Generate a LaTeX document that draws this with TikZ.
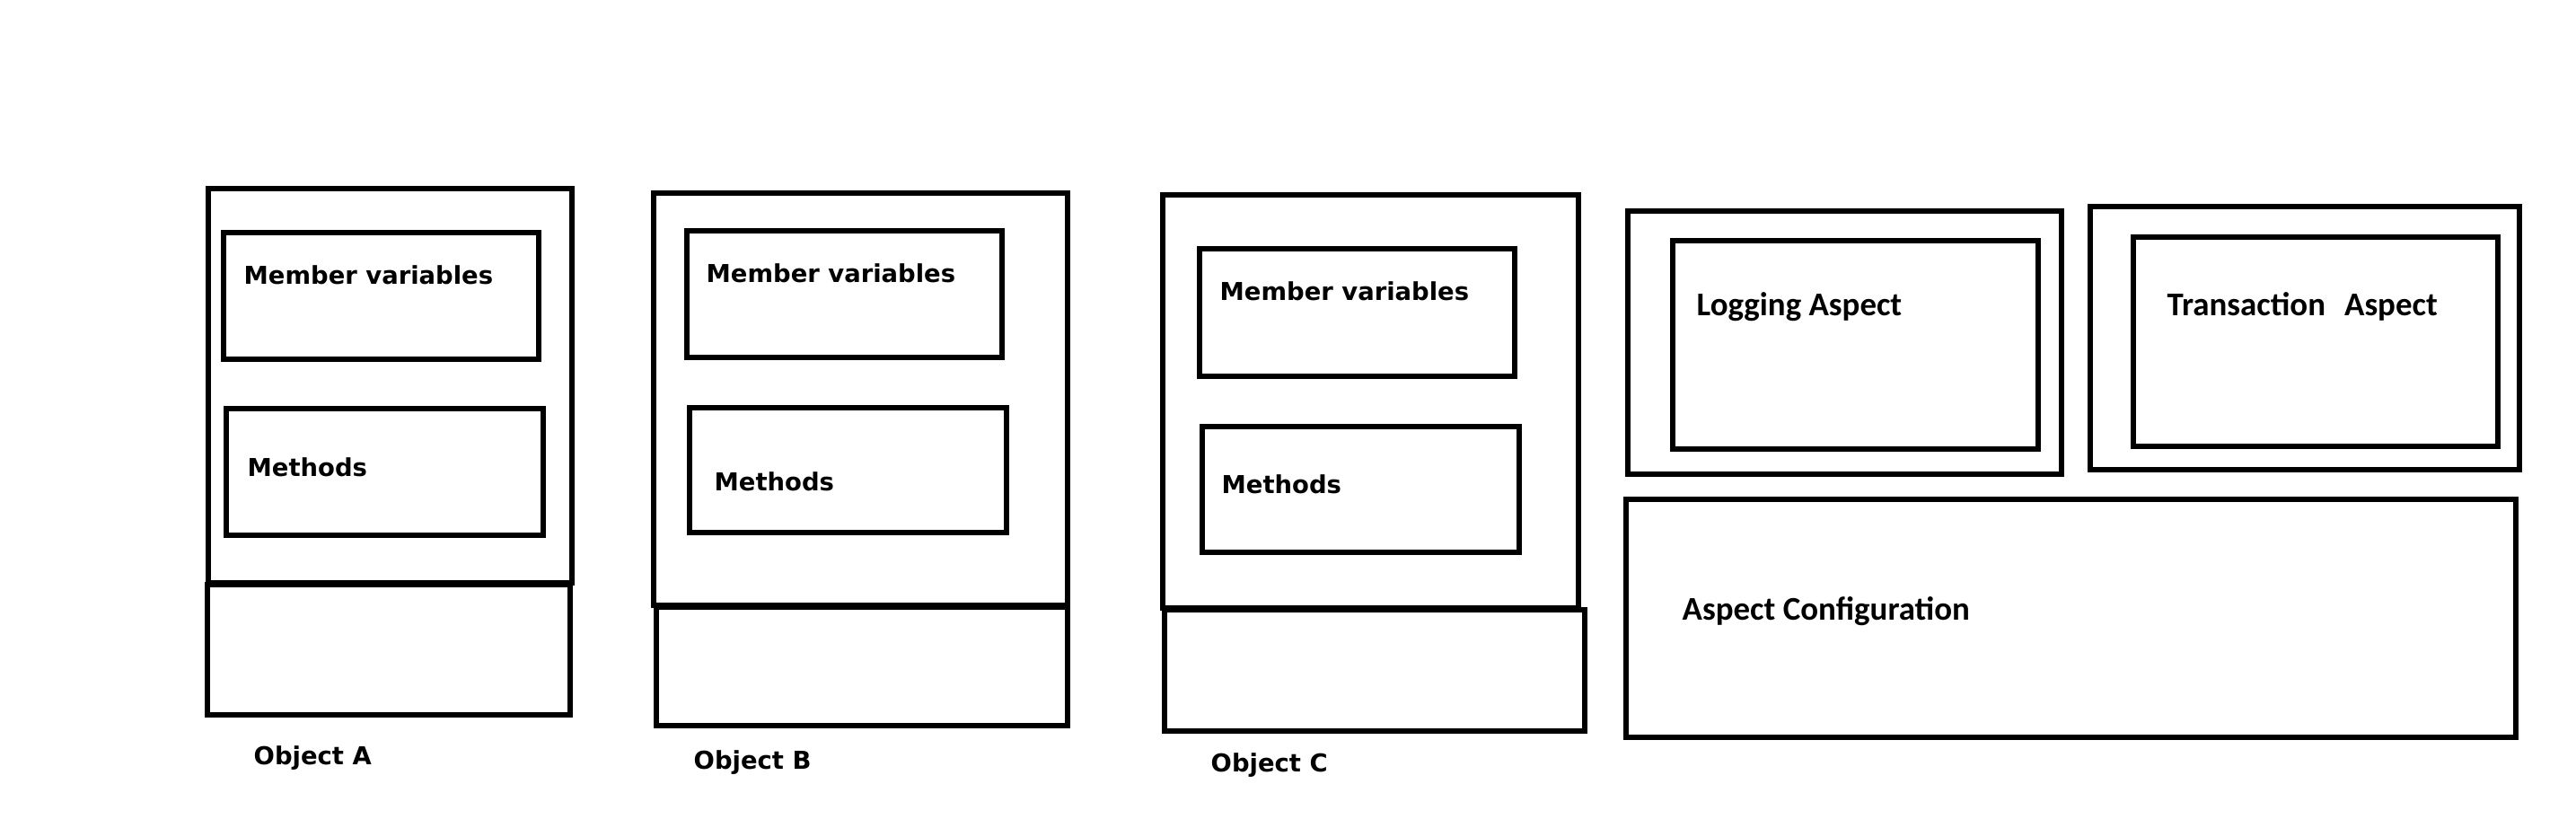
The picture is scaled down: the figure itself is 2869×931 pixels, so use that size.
\documentclass[tikz,border=0pt]{standalone}
\usepackage{fontspec}
\newfontfamily\objfont{DejaVu Sans}
\newfontfamily\aspfont{Carlito}
\usepackage{tikz}
\usetikzlibrary{fit,positioning}

\begin{document}
\begin{tikzpicture}[x=0.1mm, y=-0.1mm] % one unit = one pixel of the sketch
  \tikzstyle{box}=[draw, line width=1.5pt, inner sep=0pt, outer sep=0pt]
  \tikzstyle{txt}=[anchor=base west, inner sep=0pt, font=\objfont\bfseries\fontsize{7.8}{9}\selectfont]
  \tikzstyle{atxt}=[anchor=base west, inner sep=0pt, font=\aspfont\bfseries\fontsize{10.5}{12}\selectfont]

  \useasboundingbox (0,0) rectangle (2869,931);

  % Object A
  \node[box, fit={(232,210) (637,649)}] (ObjA) {};
  \node[box, fit={(231,651) (635,796)}] (BaseA) {};
  \node[box, fit={(249,259) (600,400)}] (MemA) {};
  \node[box, fit={(252,455) (605,596)}] (MetA) {};
  \node[txt] (tMemA) at (271,316) {Member variables};
  \node[txt] (tMetA) at (275,530) {Methods};
  \node[txt] (tObjA) at (282,851) {Object A};

  % Object B
  \node[box, fit={(728,215) (1189,674)}] (ObjB) {};
  \node[box, fit={(731,676) (1189,808)}] (BaseB) {};
  \node[box, fit={(765,257) (1116,398)}] (MemB) {};
  \node[box, fit={(768,454) (1121,593)}] (MetB) {};
  \node[txt] (tMemB) at (786,314) {Member variables};
  \node[txt] (tMetB) at (795,546) {Methods};
  \node[txt] (tObjB) at (772,856) {Object B};

  % Object C
  \node[box, fit={(1295,217) (1758,677)}] (ObjC) {};
  \node[box, fit={(1297,679) (1765,814)}] (BaseC) {};
  \node[box, fit={(1336,277) (1687,419)}] (MemC) {};
  \node[box, fit={(1339,475) (1692,615)}] (MetC) {};
  \node[txt] (tMemC) at (1358,334) {Member variables};
  \node[txt] (tMetC) at (1360,549) {Methods};
  \node[txt] (tObjC) at (1348,859) {Object C};

  % aspects
  \node[box, fit={(1813,235) (2296,528)}] (LogOut) {};
  \node[box, fit={(1863,268) (2270,500)}] (LogIn) {};
  \node[atxt] (tLog) at (1889,351) {Logging Aspect};

  \node[box, fit={(2328,230) (2806,523)}] (TrOut) {};
  \node[box, fit={(2376,264) (2782,497)}] (TrIn) {};
  \node[atxt] (tTr) at (2413,351) {Transaction\hspace{6pt}Aspect};

  \node[box, fit={(1811,556) (2802,821)}] (Conf) {};
  \node[atxt] (tConf) at (1873,690) {Aspect Configuration};

\end{tikzpicture}
\end{document}
